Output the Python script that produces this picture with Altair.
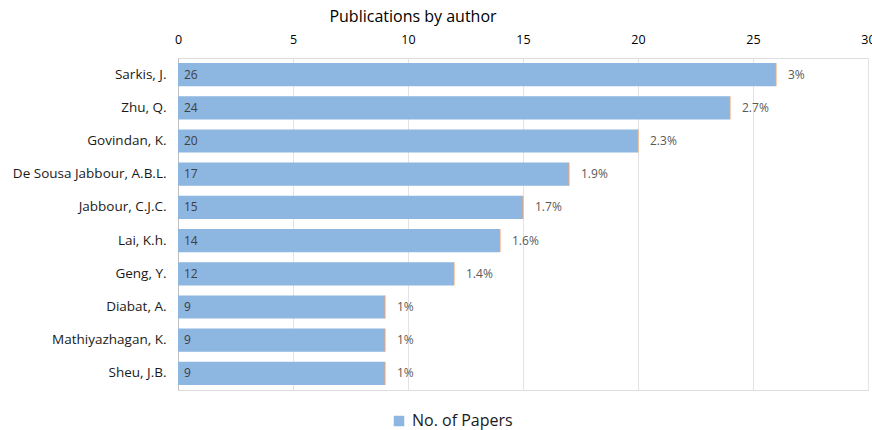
import altair as alt
import pandas as pd

authors = ["Sarkis, J.", "Zhu, Q.", "Govindan, K.", "De Sousa Jabbour, A.B.L.",
           "Jabbour, C.J.C.", "Lai, K.h.", "Geng, Y.", "Diabat, A.",
           "Mathiyazhagan, K.", "Sheu, J.B."]
papers = [26, 24, 20, 17, 15, 14, 12, 9, 9, 9]
pct_labels = ["3%", "2.7%", "2.3%", "1.9%", "1.7%", "1.6%", "1.4%", "1%", "1%", "1%"]

df = pd.DataFrame({"author": authors, "papers": papers, "pct": pct_labels,
                   "series": ["No. of Papers"] * len(authors)})

FONT = "Open Sans"
y_enc = alt.Y("author:N", sort=authors, title=None,
              scale=alt.Scale(paddingInner=0.3, paddingOuter=0.15),
              axis=alt.Axis(labelFont=FONT, labelFontSize=13.5, labelColor="#1a1a1a",
                            labelPadding=12, ticks=False, domainColor="#BFBFBF",
                            grid=False))
x_enc = alt.X("papers:Q", title=None,
              scale=alt.Scale(domain=[0, 30], nice=False),
              axis=alt.Axis(orient="top", values=[0, 5, 10, 15, 20, 25, 30],
                            labelFont=FONT, labelFontSize=12.5, labelColor="#000000",
                            labelPadding=12, ticks=False, domain=False,
                            gridColor="#E3E3E3", labelFlush=False))

bars = alt.Chart(df).mark_bar(color="#8DB6E1").encode(
    x=x_enc, y=y_enc,
    color=alt.Color("series:N", scale=alt.Scale(range=["#8DB6E1"]),
                    legend=alt.Legend(title=None, orient="none", legendX=213, legendY=355,
                                      labelFont=FONT, labelFontSize=16, labelColor="#1a1a1a",
                                      symbolType="square", symbolSize=110,
                                      symbolStrokeWidth=0, labelOffset=5))
)

ends = alt.Chart(df).mark_tick(color="#F4A46A", thickness=1.5, size=23, orient="vertical").encode(
    x="papers:Q", y=alt.Y("author:N", sort=authors)
)

count_text = alt.Chart(df).mark_text(align="left", dx=6, font=FONT, fontSize=12,
                                     color="#404040").encode(
    x=alt.datum(0), y=alt.Y("author:N", sort=authors), text="papers:Q"
)

pct_text = alt.Chart(df).mark_text(align="left", dx=12, font=FONT, fontSize=12,
                                   color="#595959").encode(
    x="papers:Q", y=alt.Y("author:N", sort=authors), text="pct:N"
)

chart = alt.layer(bars, ends, count_text, pct_text).properties(
    width=690, height=332,
    title=alt.TitleParams("Publications by author", font=FONT, fontSize=16,
                          fontWeight="normal", color="#000000", dx=-110, offset=8),
    padding={"left": 178, "top": 58, "right": 4, "bottom": 40},
    autosize=alt.AutoSizeParams(type="none")
).configure_view(stroke=None).configure(background="white")

chart.save("out.html", embed_options={"renderer": "svg", "actions": False})
